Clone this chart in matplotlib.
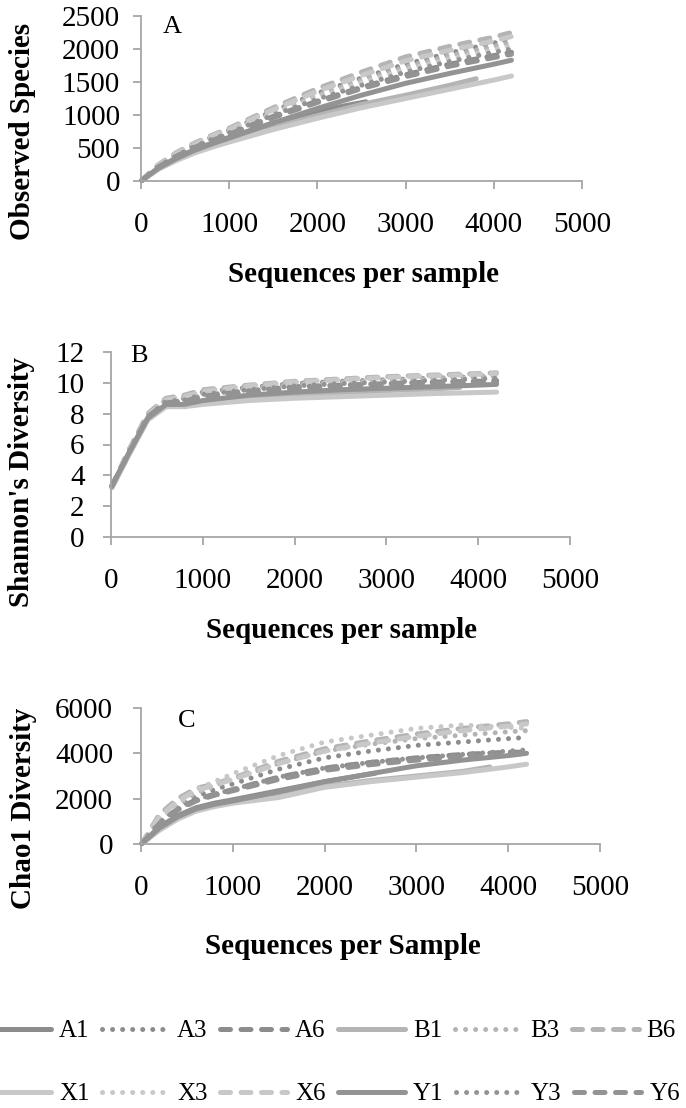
import matplotlib
matplotlib.use('Agg')
import matplotlib.pyplot as plt
from matplotlib.lines import Line2D

plt.rcParams['font.family'] = ['Liberation Serif', 'DejaVu Serif']

# sequences per sample (rarefaction depths)
seq_full = [10, 200, 400, 600, 800, 1000, 1500, 2000, 2500, 3000, 3500, 4000, 4200]
seq_a1 = [10, 200, 400, 600, 800, 1000, 1500, 2000, 2550]
seq_b1 = [10, 200, 400, 600, 800, 1000, 1500, 2000, 2500, 3000, 3500, 3800]

names = ['A1', 'A3', 'A6', 'B1', 'B3', 'B6', 'X1', 'X3', 'X6', 'Y1', 'Y3', 'Y6']

# panel A - observed species
obs_A1 = [10, 200, 350, 470, 570, 660, 880, 1060, 1200]
obs_A3 = [12, 235, 400, 545, 665, 770, 1060, 1330, 1560, 1770, 1940, 2090, 2150]
obs_A6 = [12, 220, 380, 510, 620, 720, 980, 1210, 1420, 1610, 1770, 1900, 1950]
obs_B1 = [10, 185, 325, 440, 530, 610, 810, 990, 1160, 1300, 1450, 1550]
obs_B3 = [12, 230, 395, 535, 655, 760, 1040, 1300, 1530, 1730, 1900, 2040, 2100]
obs_B6 = [15, 250, 430, 570, 690, 800, 1110, 1400, 1650, 1880, 2040, 2180, 2250]
obs_X1 = [10, 180, 310, 420, 510, 590, 780, 950, 1110, 1250, 1390, 1530, 1590]
obs_X3 = [12, 225, 390, 530, 645, 750, 1020, 1270, 1490, 1690, 1850, 1990, 2050]
obs_X6 = [15, 240, 415, 555, 675, 780, 1080, 1360, 1600, 1820, 1980, 2120, 2190]
obs_Y1 = [10, 195, 340, 460, 560, 650, 880, 1100, 1300, 1480, 1630, 1770, 1830]
obs_Y3 = [12, 220, 380, 520, 630, 730, 1000, 1240, 1450, 1650, 1810, 1950, 2000]
obs_Y6 = [12, 215, 375, 505, 610, 710, 960, 1190, 1400, 1580, 1740, 1870, 1920]

# panel B - shannon
sha_A1 = [3.3, 5.5, 7.7, 8.55, 8.55, 8.8, 9.1, 9.3, 9.37]
sha_A3 = [3.3, 5.6, 7.9, 8.9, 9.0, 9.4, 9.7, 9.95, 10.1, 10.2, 10.3, 10.4, 10.45]
sha_A6 = [3.3, 5.6, 7.8, 8.75, 8.85, 9.2, 9.5, 9.75, 9.85, 9.95, 10.05, 10.1, 10.15]
sha_B1 = [3.2, 5.4, 7.6, 8.5, 8.5, 8.7, 9.0, 9.2, 9.35, 9.5, 9.6, 9.7]
sha_B3 = [3.3, 5.6, 7.9, 8.85, 9.0, 9.35, 9.65, 9.9, 10.05, 10.15, 10.25, 10.35, 10.4]
sha_B6 = [3.3, 5.7, 8.0, 9.0, 9.2, 9.55, 9.85, 10.1, 10.25, 10.4, 10.5, 10.6, 10.65]
sha_X1 = [3.2, 5.4, 7.6, 8.45, 8.45, 8.6, 8.85, 9.0, 9.1, 9.2, 9.3, 9.37, 9.4]
sha_X3 = [3.3, 5.6, 7.8, 8.8, 8.95, 9.3, 9.6, 9.85, 10.0, 10.1, 10.2, 10.3, 10.35]
sha_X6 = [3.3, 5.7, 7.9, 8.9, 9.1, 9.45, 9.8, 10.05, 10.2, 10.35, 10.45, 10.55, 10.6]
sha_Y1 = [3.3, 5.5, 7.7, 8.6, 8.6, 8.85, 9.2, 9.4, 9.55, 9.65, 9.75, 9.85, 9.9]
sha_Y3 = [3.3, 5.6, 7.8, 8.8, 8.9, 9.25, 9.55, 9.8, 9.95, 10.05, 10.15, 10.25, 10.3]
sha_Y6 = [3.3, 5.5, 7.8, 8.7, 8.8, 9.1, 9.4, 9.65, 9.8, 9.9, 9.95, 10.0, 10.0]

# panel C - chao1
cha_A1 = [20, 750, 1250, 1600, 1800, 1950, 2350, 2750, 3120]
cha_A3 = [25, 1000, 1650, 2100, 2400, 2650, 3300, 3800, 4100, 4350, 4500, 4650, 4700]
cha_A6 = [25, 950, 1550, 1950, 2200, 2400, 2950, 3350, 3600, 3800, 3950, 4050, 4050]
cha_B1 = [20, 650, 1150, 1500, 1700, 1850, 2200, 2550, 2800, 3000, 3200, 3400]
cha_B3 = [30, 1100, 1750, 2250, 2550, 2850, 3550, 4100, 4400, 4650, 4800, 4950, 5000]
cha_B6 = [30, 1300, 2000, 2450, 2650, 2900, 3650, 4200, 4550, 4850, 5100, 5300, 5400]
cha_X1 = [20, 600, 1100, 1450, 1650, 1800, 2050, 2500, 2750, 2950, 3150, 3400, 3520]
cha_X3 = [30, 1100, 1800, 2400, 2750, 3100, 3900, 4500, 4800, 5100, 5250, 5150, 5100]
cha_X6 = [30, 1200, 1900, 2350, 2600, 2850, 3550, 4100, 4450, 4750, 5000, 5200, 5300]
cha_Y1 = [20, 700, 1200, 1550, 1750, 1900, 2300, 2750, 3100, 3450, 3700, 3900, 4000]
cha_Y3 = [25, 950, 1550, 1950, 2200, 2400, 2950, 3350, 3600, 3800, 3950, 4100, 4150]
cha_Y6 = [25, 900, 1500, 1900, 2150, 2350, 2850, 3250, 3500, 3700, 3850, 3950, 4000]

dark_a = '#8c8c8c'
mid_b = '#b4b4b4'
light_x = '#c8c8c8'
dark_y = '#939393'
colors = [dark_a] * 3 + [mid_b] * 3 + [light_x] * 3 + [dark_y] * 3
dot = (0, (0.01, 2.0))
dash = (0, (2.0, 2.1))
styles = ['-', dot, dash] * 4
xs = [seq_a1, seq_full, seq_full, seq_b1, seq_full, seq_full,
      seq_full, seq_full, seq_full, seq_full, seq_full, seq_full]
LW = 3.6
axcol = '#a6a6a6'

fig = plt.figure(figsize=(6.86, 11.08), dpi=100)
W, H = 686.0, 1108.0


def make_ax(l, r, t, b):
    return fig.add_axes([l / W, 1 - b / H, (r - l) / W, (b - t) / H])


def style_ax(ax, ymax, ystep, ypad):
    ax.set_xlim(0, 5000)
    ax.set_ylim(0, ymax)
    ax.set_xticks(range(0, 5001, 1000))
    ax.set_yticks([i * ystep for i in range(int(round(ymax / ystep)) + 1)])
    for s in ['top', 'right']:
        ax.spines[s].set_visible(False)
    for s in ['left', 'bottom']:
        ax.spines[s].set_color(axcol)
        ax.spines[s].set_linewidth(1.3)
    ax.tick_params(axis='both', direction='out', length=6, width=1.3,
                   color=axcol, labelsize=21, labelcolor='black')
    ax.tick_params(axis='x', pad=16)
    ax.tick_params(axis='y', pad=ypad)


panels = [
    (make_ax(141, 582, 16, 181), [obs_A1, obs_A3, obs_A6, obs_B1, obs_B3, obs_B6,
                                  obs_X1, obs_X3, obs_X6, obs_Y1, obs_Y3, obs_Y6], 2500, 500, 9),
    (make_ax(111, 570, 352, 537), [sha_A1, sha_A3, sha_A6, sha_B1, sha_B3, sha_B6,
                                   sha_X1, sha_X3, sha_X6, sha_Y1, sha_Y3, sha_Y6], 12, 2, 13),
    (make_ax(141, 600, 708, 844), [cha_A1, cha_A3, cha_A6, cha_B1, cha_B3, cha_B6,
                                   cha_X1, cha_X3, cha_X6, cha_Y1, cha_Y3, cha_Y6], 6000, 2000, 14),
]

for ax, series, ymax, ystep, ypad in panels:
    for x, y, c, ls in zip(xs, series, colors, styles):
        ax.plot(x, y, color=c, linestyle=ls, linewidth=LW,
                solid_capstyle='round', dash_capstyle='round', clip_on=False)
    style_ax(ax, ymax, ystep, ypad)

# panel letters
fig.text(163 / W, 1 - 33 / H, 'A', fontsize=19, ha='left', va='baseline')
fig.text(130 / W, 1 - 362 / H, 'B', fontsize=19, ha='left', va='baseline')
fig.text(178 / W, 1 - 727 / H, 'C', fontsize=19, ha='left', va='baseline')

# axis titles
fig.text(23 / W, 1 - 131 / H, 'Observed Species', rotation=90, fontsize=21,
         fontweight='bold', ha='center', va='center')
fig.text(22 / W, 1 - 482 / H, "Shannon's Diversity", rotation=90, fontsize=21,
         fontweight='bold', ha='center', va='center')
fig.text(24 / W, 1 - 808 / H, 'Chao1 Diversity', rotation=90, fontsize=21,
         fontweight='bold', ha='center', va='center')
fig.text(363 / W, 1 - 274 / H, 'Sequences per sample', fontsize=21,
         fontweight='bold', ha='center', va='center')
fig.text(342 / W, 1 - 631 / H, 'Sequences per sample', fontsize=21,
         fontweight='bold', ha='center', va='center')
fig.text(343 / W, 1 - 946 / H, 'Sequences per Sample', fontsize=21,
         fontweight='bold', ha='center', va='center')

# legend, two rows
handles = [Line2D([], [], color=c, linestyle=ls, linewidth=LW,
                  solid_capstyle='round', dash_capstyle='round')
           for c, ls in zip(colors, styles)]
for row, yc in [(0, 1031), (1, 1094)]:
    fig.legend(handles[row * 6:row * 6 + 6], names[row * 6:row * 6 + 6],
               loc='center left', bbox_to_anchor=(-16 / W, 1 - yc / H),
               ncol=6, frameon=False, fontsize=18, handlelength=2.68,
               handletextpad=0.32, columnspacing=0.5, borderpad=0,
               borderaxespad=0)

fig.savefig('out.png', dpi=100)
